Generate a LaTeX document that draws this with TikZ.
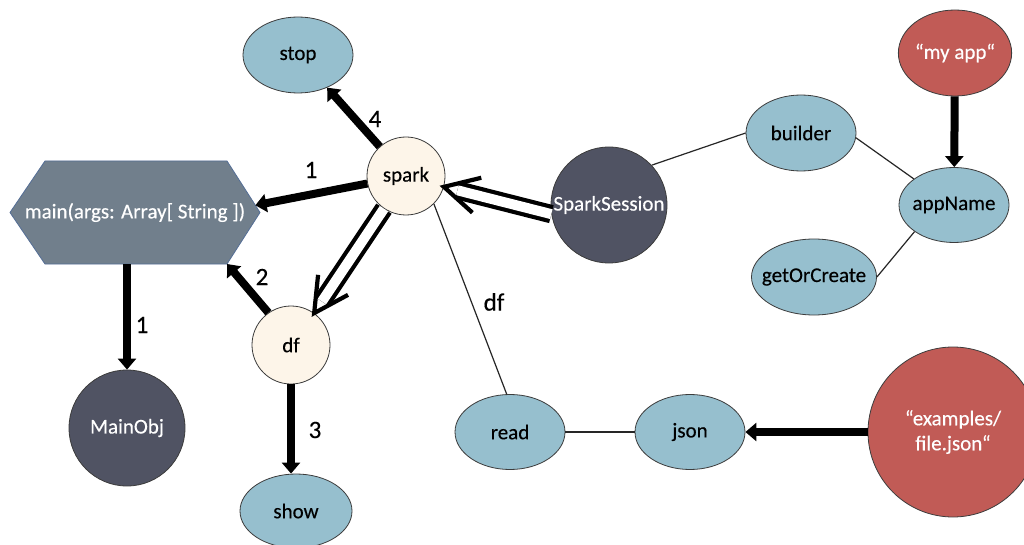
\documentclass[tikz,border=0pt]{standalone}
\usepackage{fontspec}
\setmainfont{Carlito}[FakeBold=0.35]
\usetikzlibrary{arrows.meta,shapes.geometric,calc}

\definecolor{nodeblue}{RGB}{150,191,206}
\definecolor{cream}{RGB}{253,245,233}
\definecolor{slate}{RGB}{80,83,99}
\definecolor{brick}{RGB}{193,91,86}
\definecolor{hexfill}{RGB}{113,127,140}
\definecolor{hexedge}{RGB}{84,110,150}
\definecolor{rim}{RGB}{60,60,60}

\tikzset{
  oval/.style={ellipse, draw=rim, line width=0.8pt, fill=nodeblue,
    minimum width=110pt, minimum height=76pt, inner ysep=0pt, inner xsep=-3pt},
  var/.style={circle, draw=rim, line width=0.8pt, fill=cream,
    minimum size=78pt, inner sep=0pt},
  darkball/.style={circle, draw=rim, line width=0.8pt, fill=slate,
    text=white, minimum size=116pt, inner sep=0pt},
  redball/.style={circle, draw=rim, line width=0.8pt, fill=brick,
    text=white, inner sep=0pt, align=center},
  hexshape/.style={fill=hexfill, draw=hexedge, line width=0.8pt},
  hexlabel/.style={rectangle, text=white, minimum width=250pt,
    minimum height=103pt, inner sep=0pt},
  flow/.style={line width=8pt, -{Triangle[width=18pt,length=11pt]}},
  pass/.style={double=white, double distance=10pt, line width=4.2pt,
    shorten >=14pt},
  barb/.style={line width=4.2pt, line join=miter, line cap=butt},
  link/.style={line width=1.2pt, draw=black!85},
  lbl/.style={font=\fontsize{25}{30}\selectfont, inner sep=0pt}
}

\begin{document}
\begin{tikzpicture}[x=1pt, y=-1pt, font=\fontsize{21}{25}\selectfont]
  \clip (0,0) rectangle (1024,545);
  \fill[white] (0,0) rectangle (1024,545);

  % hexagonal entry point
  \coordinate (hexW)  at (10,212.5);
  \coordinate (hexNW) at (45,161);
  \coordinate (hexNE) at (227,161);
  \coordinate (hexE)  at (260,212.5);
  \coordinate (hexSE) at (227,264);
  \coordinate (hexSW) at (45,264);
  \coordinate (hexR)  at ($(hexE)!0.14!(hexNE)$);
  \path[hexshape] (hexW) -- (hexNW) -- (hexNE) -- (hexE) -- (hexSE) -- (hexSW) -- cycle;
  \node[hexlabel] (main) at (135,212.5) {main(args: Array[ String ])};

  % program structure
  \node[darkball] (mainobj) at (127,428) {MainObj};
  \node[var] (spark) at (406,176) {spark};
  \node[var] (df) at (291,345) {df};
  \node[oval] (stop) at (298,55) {stop};
  \node[oval, minimum width=112pt, minimum height=74pt] (show) at (296,511) {show};

  % session construction chain
  \node[darkball] (ss) at (609,205) {SparkSession};
  \node[oval] (builder) at (801,133) {builder};
  \node[oval, minimum height=75pt] (appname) at (954,205) {appName};
  \node[oval, minimum width=125pt, inner xsep=-9pt] (getorcreate) at (814,277) {getOrCreate};
  \node[redball, minimum width=90pt, minimum height=86pt, ellipse] (myapp) at (955,53) {“my app“};

  % reading data
  \node[oval, minimum height=75pt] (read) at (510,432) {read};
  \node[oval, minimum height=75pt] (json) at (690,432) {json};
  \node[redball, minimum size=170pt] (examples) at (953,432) {“examples/\\file.json“};

  % call order arrows
  \draw[flow] (spark) -- (hexR);
  \draw[flow] (main.south -| mainobj) -- (mainobj);
  \draw[flow] (df.125) -- (hexSE);
  \draw[flow] (df) -- (df |- show.north);
  \draw[flow] (spark) -- (stop);
  \draw[flow] (myapp) -- (appname);
  \draw[flow] (examples) -- (json);

  % value flow: double shafts with open heads
  \draw[pass] (ss.189) -- (spark.-16);
  \draw[barb] ($(spark.-16)!34pt!(ss.189)!18pt!90:(ss.189)$) -- (spark.-16)
              -- ($(spark.-16)!34pt!(ss.189)!18pt!-90:(ss.189)$);
  \draw[pass] (spark.236) -- (df.54);
  \draw[barb] ($(df.54)!34pt!(spark.236)!18pt!90:(spark.236)$) -- (df.54)
              -- ($(df.54)!34pt!(spark.236)!18pt!-90:(spark.236)$);

  % method chains
  \draw[link] (ss.43) -- (builder.west);
  \draw[link] (builder.-5) -- (appname.147);
  \draw[link] (appname.214) -- (getorcreate.east);
  \draw[link] (spark.-45) -- (read.95);
  \draw[link] (read) -- (json);

  % step numbers
  \node[lbl] (n1a) at (311,170) {1};
  \node[lbl] (n1b) at (142,325) {1};
  \node[lbl] (n2) at (262,277) {2};
  \node[lbl] (n3) at (315,430) {3};
  \node[lbl] (n4) at (375,119) {4};
  \node[lbl] (ndf) at (494,302) {df};
\end{tikzpicture}
\end{document}
